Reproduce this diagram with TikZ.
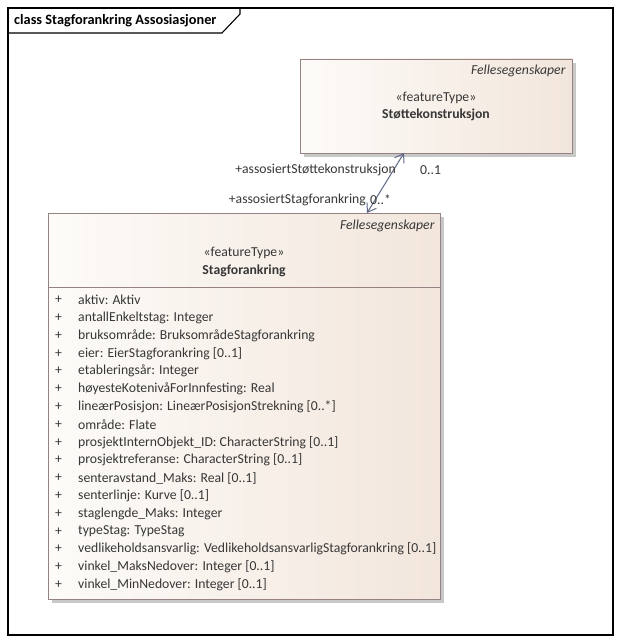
\documentclass[tikz,border=0pt]{standalone}
\usepackage{fontspec}
\setmainfont{Carlito}
\usetikzlibrary{shadows,arrows.meta}
\definecolor{boxc}{RGB}{150,130,130}
\definecolor{fillL}{RGB}{253,251,248}
\definecolor{fillR}{RGB}{242,230,220}
\definecolor{shadowc}{RGB}{200,200,200}
\definecolor{txt}{RGB}{55,55,55}
\definecolor{conn}{RGB}{95,105,135}
\begin{document}
\begin{tikzpicture}[x=1pt,y=-1pt,
  umlbox/.style={draw=boxc, line width=0.9pt, left color=fillL, right color=fillR,
     anchor=north west, inner sep=0pt, outer sep=0pt,
     drop shadow={shadow xshift=4pt, shadow yshift=-4pt, fill=shadowc, opacity=1}},
  stereo/.style={font=\fontsize{13.7}{15}\selectfont, text=txt},
  cname/.style={font=\fontsize{13.7}{15}\selectfont\bfseries, text=txt},
  pkg/.style={font=\fontsize{13.7}{15}\selectfont\itshape, text=txt, anchor=east},
  attr/.style={font=\fontsize{13.7}{15}\selectfont, text=txt, anchor=west, inner sep=0pt},
  lbl/.style={font=\fontsize{13.7}{15}\selectfont, text=txt, inner sep=0pt},
  assoc/.style={draw=conn, line width=1pt, {Straight Barb[length=8pt,width=11pt]}-{Straight Barb[length=8pt,width=11pt]}}
]
\useasboundingbox (0,0) rectangle (622,644);
\fill[white] (0,0) rectangle (622,644);
% frame
\draw[black, line width=1.1pt] (8,8) rectangle (613,635);
\draw[black, line width=1.1pt] (8,33) -- (222,33) -- (240,14) -- (240,8);
\node[anchor=west, inner sep=0pt, font=\fontsize{14.3}{16}\selectfont\bfseries] (title) at (14,21) {class Stagforankring Assosiasjoner};

% Stottekonstruksjon
\node[umlbox, minimum width=272pt, minimum height=94pt] (stotte) at (300,59) {};
\node[pkg] (stpkg) at (569,71) {Fellesegenskaper};
\node[stereo] (stster) at (436,98) {«featureType»};
\node[cname] (stname) at (436,115) {Støttekonstruksjon};

% Stagforankring
\node[umlbox, minimum width=392pt, minimum height=386pt] (stag) at (48,213) {};
\node[pkg] (sgpkg) at (438,226) {Fellesegenskaper};
\node[stereo] (sgster) at (244,253) {«featureType»};
\node[cname] (sgname) at (244,271) {Stagforankring};
\draw[boxc, line width=0.9pt] (48,287) coordinate (sepL) -- (440,287) coordinate (sepR);

\foreach \t [count=\i from 0] in {
 aktiv: Aktiv,
 antallEnkeltstag: Integer,
 bruksområde: BruksområdeStagforankring,
 eier: EierStagforankring [0..1],
 etableringsår: Integer,
 høyesteKotenivåForInnfesting: Real,
 lineærPosisjon: LineærPosisjonStrekning [0..*],
 område: Flate,
 prosjektInternObjekt\_ID: CharacterString [0..1],
 prosjektreferanse: CharacterString [0..1],
 senteravstand\_Maks: Real [0..1],
 senterlinje: Kurve [0..1],
 staglengde\_Maks: Integer,
 typeStag: TypeStag,
 vedlikeholdsansvarlig: VedlikeholdsansvarligStagforankring [0..1],
 vinkel\_MaksNedover: Integer [0..1],
 vinkel\_MinNedover: Integer [0..1]}
{
 \node[attr] (p\i) at (55,300+17.8*\i) {+};
 \node[attr] (a\i) at (78,300+17.8*\i) {\t};
}

% association
\coordinate (e1) at (367,213);
\coordinate (e2) at (404,153);
\draw[assoc] (e1) -- (e2);
\node[lbl, anchor=east] (r1) at (396,170) {+assosiertStøttekonstruksjon};
\node[lbl, anchor=west] (m1) at (420,170) {0..1};
\node[lbl, anchor=east] (r2) at (366,200) {+assosiertStagforankring};
\node[lbl, anchor=west] (m2) at (370,200) {0..*};
\end{tikzpicture}
\end{document}
